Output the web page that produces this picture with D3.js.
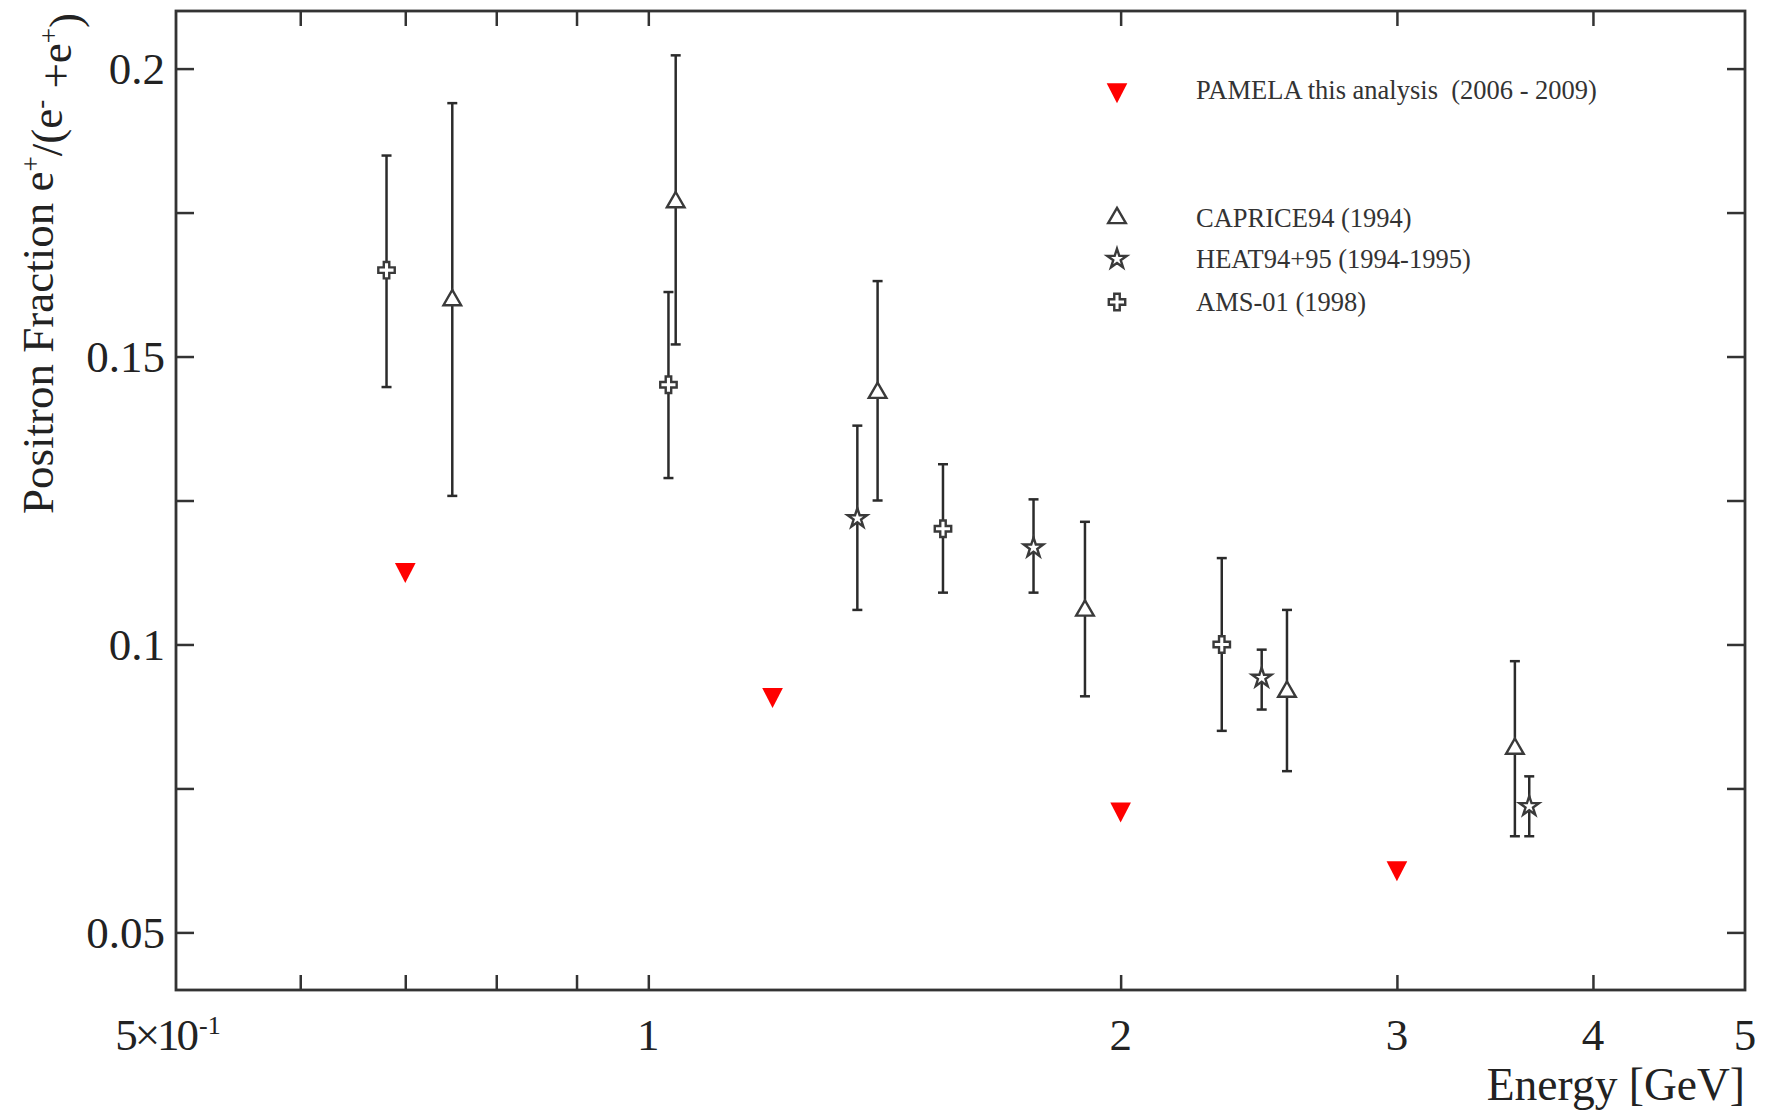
<!DOCTYPE html>
<html>
<head>
<meta charset="utf-8">
<script src="https://cdn.jsdelivr.net/npm/d3@7"></script>
<style>
  html, body { margin: 0; padding: 0; background: #fff; }
  svg { display: block; }
  text { font-family: "Liberation Serif", "DejaVu Serif", serif; white-space: pre; }
</style>
</head>
<body>
<script>
// Positron fraction e+/(e- + e+) versus energy, several experiments.

// PAMELA this analysis (2006 - 2009)
const pamelaEnergy = [0.70, 1.20, 2.00, 3.00];
const pamelaFrac   = [0.1130, 0.0913, 0.0714, 0.0612];

// CAPRICE94 (1994)
const capriceEnergy = [0.750, 1.041, 1.400, 1.898, 2.553, 3.567];
const capriceFrac   = [0.1598, 0.1768, 0.1437, 0.1059, 0.0918, 0.0819];
const capriceLow    = [0.1258, 0.1521, 0.1250, 0.0910, 0.0780, 0.0667];
const capriceHigh   = [0.1940, 0.2023, 0.1631, 0.1213, 0.1060, 0.0971];

// HEAT94+95 (1994-1995)
const heatEnergy = [1.359, 1.760, 2.460, 3.643];
const heatFrac   = [0.1219, 0.1168, 0.0942, 0.0719];
const heatLow    = [0.1060, 0.1090, 0.0887, 0.0667];
const heatHigh   = [0.1380, 0.1252, 0.0991, 0.0771];

// AMS-01 (1998)
const amsEnergy = [0.681, 1.030, 1.541, 2.320];
const amsFrac   = [0.1650, 0.1451, 0.1201, 0.1000];
const amsLow    = [0.1447, 0.1289, 0.1090, 0.0850];
const amsHigh   = [0.1849, 0.1612, 0.1313, 0.1150];

// Axis ticks and labels
const xTickValues = [0.6, 0.7, 0.8, 0.9, 1, 2, 3, 4];
const xLabelValues = [0.5, 1, 2, 3, 4, 5];
const xLabelTexts  = [["5×10", "-1"], ["1"], ["2"], ["3"], ["4"], ["5"]];
const yTickValues = [0.05, 0.075, 0.1, 0.125, 0.15, 0.175, 0.2];
const yLabelValues = [0.05, 0.1, 0.15, 0.2];
const yLabelTexts  = ["0.05", "0.1", "0.15", "0.2"];

const legendNames = [
  "PAMELA this analysis  (2006 - 2009)",
  "CAPRICE94 (1994)",
  "HEAT94+95 (1994-1995)",
  "AMS-01 (1998)"
];

const W = 1769, H = 1111;
const frame = { left: 176, right: 1745, top: 11, bottom: 990 };
const ink = "#333";

const x = d3.scaleLog().domain([0.5, 5]).range([frame.left, frame.right]);
const y = d3.scaleLinear().domain([0.04, 0.21]).range([frame.bottom, frame.top]);

const svg = d3.select("body").append("svg")
  .attr("width", W).attr("height", H)
  .style("background", "#fff");

// Tick marks on all four sides, pointing inward
function styleAxis(g) {
  g.select(".domain").remove();
  g.selectAll(".tick line").attr("stroke", ink).attr("stroke-width", 2.5);
  g.selectAll(".tick text").remove();
}
svg.append("g").attr("transform", `translate(0,${frame.bottom})`)
  .call(d3.axisBottom(x).tickValues(xTickValues).tickSize(-15).tickSizeOuter(0))
  .call(styleAxis);
svg.append("g").attr("transform", `translate(0,${frame.top})`)
  .call(d3.axisTop(x).tickValues(xTickValues).tickSize(-15).tickSizeOuter(0))
  .call(styleAxis);
svg.append("g").attr("transform", `translate(${frame.left},0)`)
  .call(d3.axisLeft(y).tickValues(yTickValues).tickSize(-18).tickSizeOuter(0))
  .call(styleAxis);
svg.append("g").attr("transform", `translate(${frame.right},0)`)
  .call(d3.axisRight(y).tickValues(yTickValues).tickSize(-18).tickSizeOuter(0))
  .call(styleAxis);

// Frame
svg.append("rect")
  .attr("x", frame.left).attr("y", frame.top)
  .attr("width", frame.right - frame.left).attr("height", frame.bottom - frame.top)
  .attr("fill", "none").attr("stroke", ink).attr("stroke-width", 2.8);

// Y tick labels
svg.append("g").selectAll("text")
  .data(yLabelValues)
  .join("text")
  .attr("x", frame.left - 11)
  .attr("y", d => y(d))
  .attr("dy", "0.34em")
  .attr("text-anchor", "end")
  .attr("font-size", 45)
  .attr("fill", "#222")
  .text((d, i) => yLabelTexts[i]);

// X tick labels
const xl = svg.append("g").selectAll("text")
  .data(xLabelValues)
  .join("text")
  .attr("x", (d, i) => x(d) + (i === 0 ? -8 : 0))
  .attr("y", 1050)
  .attr("text-anchor", "middle")
  .attr("font-size", 45)
  .attr("fill", "#222");
xl.each(function(d, i) {
  const t = d3.select(this);
  const parts = xLabelTexts[i];
  t.append("tspan").attr("letter-spacing", parts[1] ? -3 : 0).text(parts[0]);
  if (parts[1]) {
    t.append("tspan").attr("dy", "-0.62em").attr("dx", 3).attr("font-size", 26).text(parts[1]);
  }
});

// Axis titles
svg.append("text")
  .attr("x", frame.right)
  .attr("y", 1100)
  .attr("text-anchor", "end")
  .attr("font-size", 45.5)
  .attr("fill", "#222")
  .text("Energy [GeV]");

const yt = svg.append("text")
  .attr("transform", "translate(53,13) rotate(-90)")
  .attr("text-anchor", "end")
  .attr("font-size", 45)
  .attr("fill", "#222");
yt.append("tspan").text("Positron Fraction e");
yt.append("tspan").attr("dy", "-0.5em").attr("font-size", 27).text("+");
yt.append("tspan").attr("dy", "0.5em").text("/(e");
yt.append("tspan").attr("dy", "-0.5em").attr("font-size", 27).text("-");
yt.append("tspan").attr("dy", "0.5em").text(" +e");
yt.append("tspan").attr("dy", "-0.5em").attr("font-size", 27).text("+");
yt.append("tspan").attr("dy", "0.5em").text(")");

// Marker shapes
const sym = {
  pamela:  d3.symbol().type(d3.symbolTriangle).size(185),
  caprice: d3.symbol().type(d3.symbolTriangle).size(135),
  heat:    d3.symbol().type(d3.symbolStar).size(118),
  ams:     d3.symbol().type(d3.symbolCross).size(150)
};

function drawMarker(g, kind, cx, cy) {
  if (kind === "pamela") {
    g.append("path").attr("d", sym.pamela())
      .attr("transform", `translate(${cx},${cy}) rotate(180) scale(1,1.12)`)
      .attr("fill", "#ff0000").attr("stroke", "none");
  } else {
    g.append("path").attr("d", sym[kind]())
      .attr("transform", `translate(${cx},${cy})`)
      .attr("fill", "#fff").attr("stroke", "#3a3a3a").attr("stroke-width", 2.4)
      .attr("stroke-linejoin", "miter");
  }
}

function drawSeries(kind, energy, frac, low, high) {
  const g = svg.append("g");
  if (low) {
    energy.forEach((e, i) => {
      const cx = x(e);
      g.append("line").attr("x1", cx).attr("x2", cx)
        .attr("y1", y(low[i])).attr("y2", y(high[i]))
        .attr("stroke", "#2b2b2b").attr("stroke-width", 2.5);
      [low[i], high[i]].forEach(v => {
        g.append("line").attr("x1", cx - 5).attr("x2", cx + 5)
          .attr("y1", y(v)).attr("y2", y(v))
          .attr("stroke", "#2b2b2b").attr("stroke-width", 2.5);
      });
    });
  }
  energy.forEach((e, i) => drawMarker(g, kind, x(e), y(frac[i])));
}

drawSeries("caprice", capriceEnergy, capriceFrac, capriceLow, capriceHigh);
drawSeries("heat", heatEnergy, heatFrac, heatLow, heatHigh);
drawSeries("ams", amsEnergy, amsFrac, amsLow, amsHigh);
drawSeries("pamela", pamelaEnergy, pamelaFrac, null, null);

// Legend
const legendKinds = ["pamela", "caprice", "heat", "ams"];
const legendRows = [90, 218, 259, 302];
const lg = svg.append("g");
legendKinds.forEach((k, i) => {
  drawMarker(lg, k, 1117, legendRows[i]);
  lg.append("text")
    .attr("x", 1196).attr("y", legendRows[i])
    .attr("dy", "0.35em")
    .attr("font-size", 26.5)
    .attr("fill", "#333")
    .text(legendNames[i]);
});
</script>
</body>
</html>
